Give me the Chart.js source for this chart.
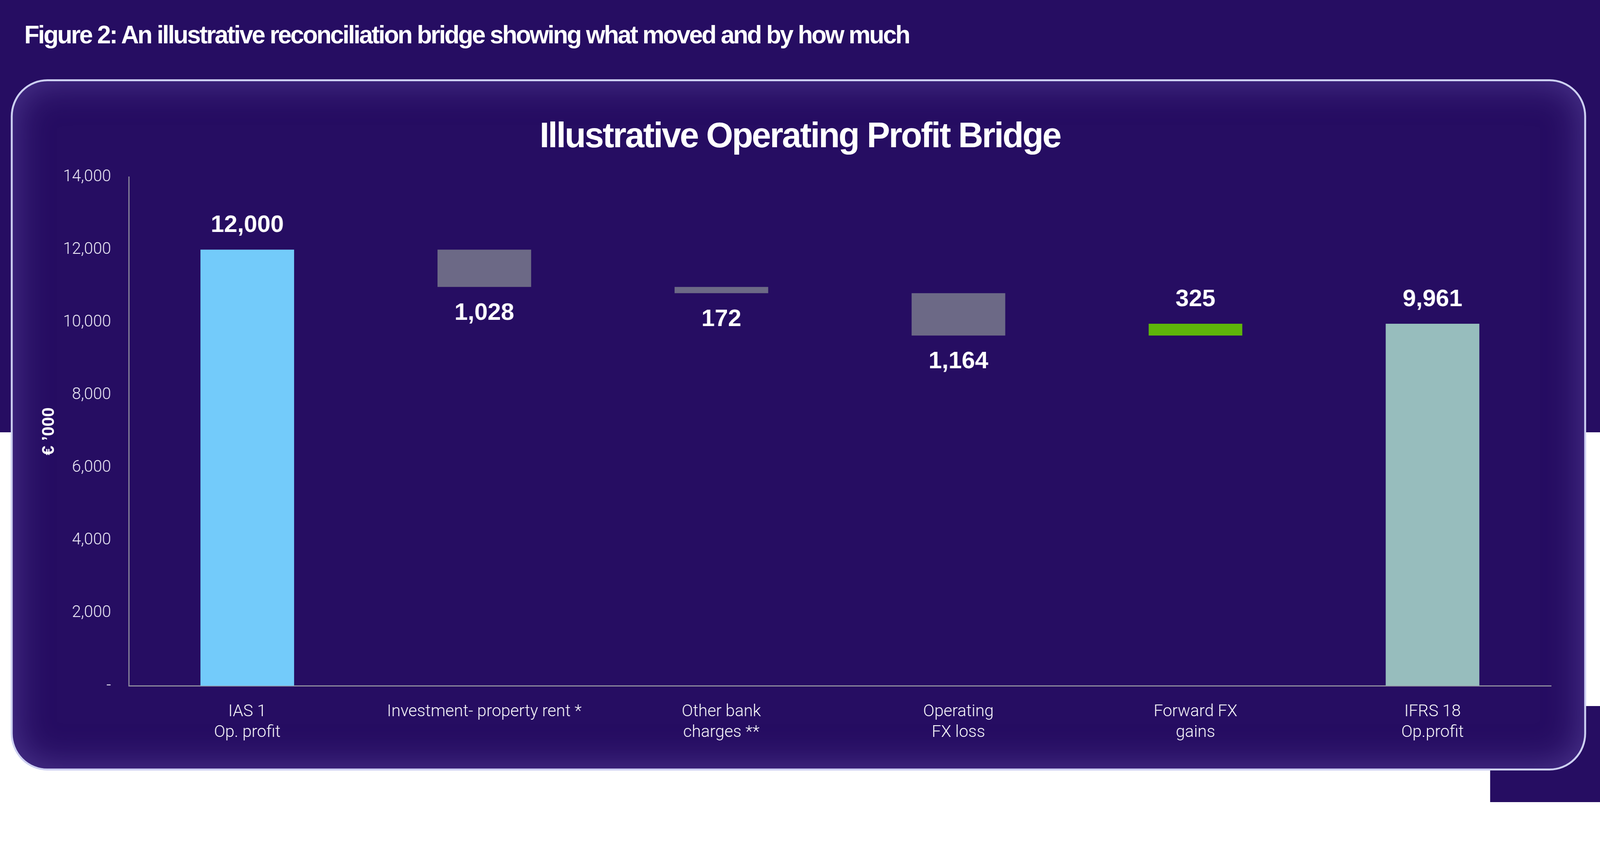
<!DOCTYPE html>
<html>
<head>
<meta charset="utf-8">
<script src="https://cdn.jsdelivr.net/npm/chart.js@4"></script>
<style>
  html, body { margin: 0; padding: 0; background: #fff; overflow: hidden; }
  #page { width: 4151px; height: 2192px; position: relative; overflow: hidden; transform-origin: 0 0; }
  .band { position: absolute; left: 0; top: 0; width: 4151px; height: 1107px; background: #260D62; }
  .block { position: absolute; left: 3866px; top: 1808px; width: 285px; height: 246px; background: #260D62; }
  .card {
    position: absolute; left: 28px; top: 203px; width: 4077px; height: 1760px;
    border: 5px solid #CDD0F2; border-radius: 95px; background: #260D62;
    box-shadow: inset 0 0 90px 6px rgba(105, 85, 175, 0.55);
  }
  .fig-title {
    position: absolute; left: 63px; top: 57px; white-space: nowrap;
    font: bold 64px/64px "Liberation Sans", Arial, sans-serif; color: #fff;
  }
  .chart-title {
    position: absolute; left: 0; top: 301px; width: 4151px; text-align: center; white-space: nowrap;
    font: bold 90px/90px "Liberation Sans", Arial, sans-serif; color: #fff;
  }
  canvas { position: absolute; left: 0; top: 0; }
</style>
</head>
<body>
<div id="page">
  <div class="band"></div>
  <div class="block"></div>
  <div class="card"></div>
  <div class="fig-title" id="figTitle">Figure 2: An illustrative reconciliation bridge showing what moved and by how much</div>
  <div class="chart-title" id="chartTitle">Illustrative Operating Profit Bridge</div>
  <canvas id="myChart" width="4151" height="2192"></canvas>
</div>
<script>
// bridge data
const categories = [
  ["IAS 1", "Op. profit"],
  "Investment- property rent *",
  ["Other bank", "charges **"],
  ["Operating", "FX loss"],
  ["Forward FX", "gains"],
  ["IFRS 18", "Op.profit"]
];
const moves = [12000, -1028, -172, -1164, 325, 9961];
const kinds = ["total", "step", "step", "step", "step", "total"];
const yTicks = [0, 2000, 4000, 6000, 8000, 10000, 12000, 14000];
const barColors = ["#73CBFA", "#6C6986", "#6C6986", "#6C6986", "#5EB60A", "#97BDBD"];

// the page is laid out at 4151x2192, stretch it onto the real viewport
const page = document.getElementById("page");
const sx = window.innerWidth / 4151, sy = window.innerHeight / 2192;
if (Math.abs(sx - 1) > 0.001 || Math.abs(sy - 1) > 0.001) {
  page.style.transform = "scale(" + sx + "," + sy + ")";
}

// squeeze the html titles to the width they have in the figure
function fitText(el, target) {
  const c = document.createElement("canvas").getContext("2d");
  const cs = getComputedStyle(el);
  c.font = cs.fontWeight + " " + cs.fontSize + " " + cs.fontFamily;
  const w = c.measureText(el.textContent).width;
  el.style.letterSpacing = ((target - w) / el.textContent.length) + "px";
}
fitText(document.getElementById("figTitle"), 2298);
fitText(document.getElementById("chartTitle"), 1351);

// floating ranges for each bar
let running = 0;
const ranges = moves.map((m, i) => {
  if (kinds[i] === "total") { running = m; return [0, m]; }
  const start = running;
  running += m;
  return [start, running];
});

const fmt = v => Math.abs(v).toLocaleString("en-US");
const lightFont = "Roboto, 'Liberation Sans', sans-serif";

const valueLabels = {
  id: "valueLabels",
  afterDatasetsDraw(chart) {
    const ctx = chart.ctx;
    const meta = chart.getDatasetMeta(0);
    ctx.save();
    ctx.fillStyle = "#ffffff";
    ctx.font = "bold 62px 'Liberation Sans', Arial, sans-serif";
    ctx.textAlign = "center";
    ctx.textBaseline = "middle";
    meta.data.forEach((bar, i) => {
      const top = Math.min(bar.y, bar.base);
      const bottom = Math.max(bar.y, bar.base);
      const y = moves[i] < 0 ? bottom + 67 : top - 62;
      ctx.fillText(fmt(moves[i]), bar.x, y);
    });
    ctx.restore();
  }
};

new Chart("myChart", {
  type: "bar",
  data: {
    labels: categories,
    datasets: [{
      data: ranges,
      backgroundColor: barColors,
      borderWidth: 0,
      barPercentage: 0.395,
      categoryPercentage: 1
    }]
  },
  options: {
    responsive: false,
    animation: false,
    devicePixelRatio: 1,
    layout: { padding: { left: 34, right: 127, top: 453, bottom: 236 } },
    plugins: { legend: { display: false }, tooltip: { enabled: false } },
    scales: {
      x: {
        grid: { display: false },
        border: { display: true, color: "#8E8C9E", width: 3 },
        ticks: { color: "#ffffff", padding: 32, font: { family: lightFont, weight: "300", size: 43, lineHeight: 1.25 }, maxRotation: 0, autoSkip: false },
        afterFit: axis => { axis.height = 200; }
      },
      y: {
        min: 0,
        max: 14000,
        afterBuildTicks: axis => { axis.ticks = yTicks.map(v => ({ value: v })); },
        grid: { display: false },
        border: { display: true, color: "#8E8C9E", width: 3 },
        ticks: {
          color: "#F2F0FA", padding: 38,
          font: { family: lightFont, weight: "300", size: 42 },
          callback: v => v === 0 ? "-" : v.toLocaleString("en-US")
        },
        title: {
          display: true, text: "€ ’000", color: "#ffffff",
          font: { family: "'Liberation Sans', Arial, sans-serif", weight: "bold", size: 44 },
          padding: { top: 67, bottom: 0 }
        },
        afterFit: axis => { axis.width = 300; }
      }
    }
  },
  plugins: [valueLabels]
});
</script>
</body>
</html>
